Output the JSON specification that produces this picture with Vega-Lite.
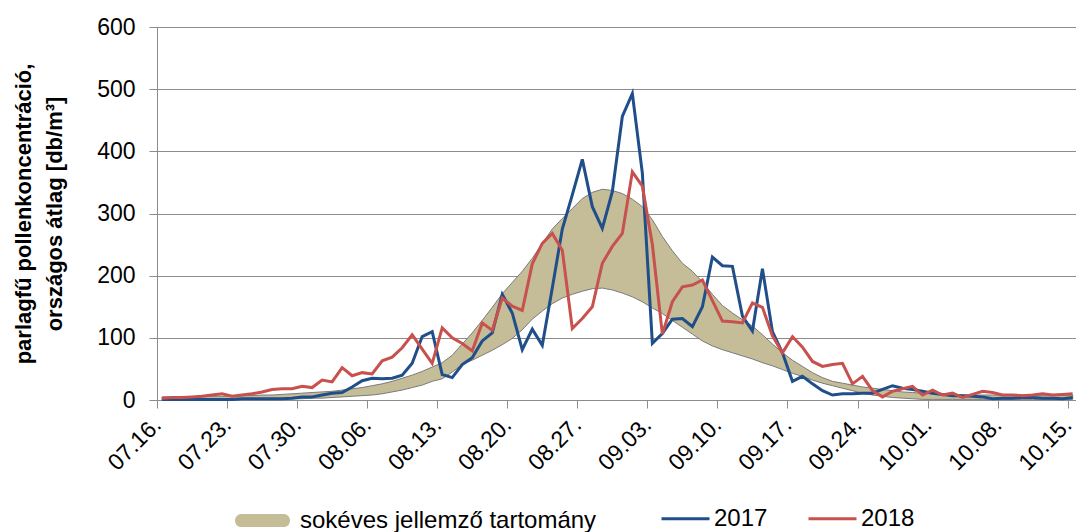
{
"$schema":"https://vega.github.io/schema/vega-lite/v6.json",
"width":919,"height":373,
"autosize":{"type":"none"},
"padding":{"left":157,"top":27,"right":0,"bottom":132},
"background":"white",
"config":{"font":"Liberation Sans","view":{"stroke":null},
 "axis":{"labelColor":"#000","titleColor":"#000","labelFont":"Liberation Sans","titleFont":"Liberation Sans","domainColor":"#8c8c8c","tickColor":"#8c8c8c","gridColor":"#8c8c8c","domainWidth":1,"tickWidth":1,"gridWidth":1},
 "legend":{"labelColor":"#000","labelFont":"Liberation Sans"}},
"data":{"values":[
{"date":"2018-07-16T12:00:00Z","lo":0,"up":5,"2017":1,"2018":3},
{"date":"2018-07-17T12:00:00Z","lo":0,"up":5,"2017":1,"2018":4},
{"date":"2018-07-18T12:00:00Z","lo":0,"up":5,"2017":1,"2018":4},
{"date":"2018-07-19T12:00:00Z","lo":0,"up":5,"2017":1,"2018":5},
{"date":"2018-07-20T12:00:00Z","lo":0,"up":6,"2017":1,"2018":6},
{"date":"2018-07-21T12:00:00Z","lo":0,"up":6,"2017":1,"2018":8},
{"date":"2018-07-22T12:00:00Z","lo":0,"up":6,"2017":1,"2018":10},
{"date":"2018-07-23T12:00:00Z","lo":0,"up":6,"2017":1,"2018":6},
{"date":"2018-07-24T12:00:00Z","lo":1,"up":7,"2017":2,"2018":8},
{"date":"2018-07-25T12:00:00Z","lo":1,"up":7,"2017":2,"2018":10},
{"date":"2018-07-26T12:00:00Z","lo":1,"up":8,"2017":2,"2018":13},
{"date":"2018-07-27T12:00:00Z","lo":1,"up":8,"2017":2,"2018":17},
{"date":"2018-07-28T12:00:00Z","lo":2,"up":9,"2017":2,"2018":18},
{"date":"2018-07-29T12:00:00Z","lo":2,"up":10,"2017":3,"2018":18},
{"date":"2018-07-30T12:00:00Z","lo":2,"up":11,"2017":5,"2018":22},
{"date":"2018-07-31T12:00:00Z","lo":3,"up":12,"2017":5,"2018":20},
{"date":"2018-08-01T12:00:00Z","lo":3,"up":13,"2017":8,"2018":32},
{"date":"2018-08-02T12:00:00Z","lo":4,"up":14,"2017":11,"2018":29},
{"date":"2018-08-03T12:00:00Z","lo":5,"up":16,"2017":12,"2018":52},
{"date":"2018-08-04T12:00:00Z","lo":6,"up":18,"2017":21,"2018":39},
{"date":"2018-08-05T12:00:00Z","lo":7,"up":20,"2017":31,"2018":44},
{"date":"2018-08-06T12:00:00Z","lo":8,"up":23,"2017":35,"2018":42},
{"date":"2018-08-07T12:00:00Z","lo":10,"up":26,"2017":34,"2018":63},
{"date":"2018-08-08T12:00:00Z","lo":13,"up":30,"2017":35,"2018":69},
{"date":"2018-08-09T12:00:00Z","lo":16,"up":35,"2017":40,"2018":84},
{"date":"2018-08-10T12:00:00Z","lo":20,"up":40,"2017":59,"2018":105},
{"date":"2018-08-11T12:00:00Z","lo":24,"up":46,"2017":102,"2018":82},
{"date":"2018-08-12T12:00:00Z","lo":30,"up":53,"2017":110,"2018":59},
{"date":"2018-08-13T12:00:00Z","lo":34,"up":60,"2017":41,"2018":116},
{"date":"2018-08-14T12:00:00Z","lo":45,"up":72,"2017":36,"2018":100},
{"date":"2018-08-15T12:00:00Z","lo":57,"up":90,"2017":57,"2018":91},
{"date":"2018-08-16T12:00:00Z","lo":64,"up":108,"2017":68,"2018":79},
{"date":"2018-08-17T12:00:00Z","lo":72,"up":128,"2017":95,"2018":124},
{"date":"2018-08-18T12:00:00Z","lo":80,"up":149,"2017":108,"2018":112},
{"date":"2018-08-19T12:00:00Z","lo":89,"up":171,"2017":170,"2018":164},
{"date":"2018-08-20T12:00:00Z","lo":99,"up":189,"2017":140,"2018":151},
{"date":"2018-08-21T12:00:00Z","lo":113,"up":207,"2017":81,"2018":144},
{"date":"2018-08-22T12:00:00Z","lo":130,"up":228,"2017":114,"2018":219},
{"date":"2018-08-23T12:00:00Z","lo":143,"up":252,"2017":88,"2018":252},
{"date":"2018-08-24T12:00:00Z","lo":155,"up":275,"2017":180,"2018":268},
{"date":"2018-08-25T12:00:00Z","lo":164,"up":292,"2017":275,"2018":241},
{"date":"2018-08-26T12:00:00Z","lo":170,"up":308,"2017":330,"2018":115},
{"date":"2018-08-27T12:00:00Z","lo":175,"up":324,"2017":387,"2018":131},
{"date":"2018-08-28T12:00:00Z","lo":179,"up":334,"2017":311,"2018":150},
{"date":"2018-08-29T12:00:00Z","lo":180,"up":339,"2017":276,"2018":220},
{"date":"2018-08-30T12:00:00Z","lo":177,"up":337,"2017":335,"2018":247},
{"date":"2018-08-31T12:00:00Z","lo":172,"up":332,"2017":456,"2018":268},
{"date":"2018-09-01T12:00:00Z","lo":166,"up":323,"2017":493,"2018":367},
{"date":"2018-09-02T12:00:00Z","lo":158,"up":311,"2017":365,"2018":344},
{"date":"2018-09-03T12:00:00Z","lo":148,"up":290,"2017":91,"2018":250},
{"date":"2018-09-04T12:00:00Z","lo":139,"up":263,"2017":107,"2018":106},
{"date":"2018-09-05T12:00:00Z","lo":128,"up":240,"2017":130,"2018":158},
{"date":"2018-09-06T12:00:00Z","lo":117,"up":220,"2017":131,"2018":182},
{"date":"2018-09-07T12:00:00Z","lo":106,"up":207,"2017":118,"2018":185},
{"date":"2018-09-08T12:00:00Z","lo":95,"up":190,"2017":150,"2018":193},
{"date":"2018-09-09T12:00:00Z","lo":87,"up":170,"2017":230,"2018":160},
{"date":"2018-09-10T12:00:00Z","lo":81,"up":152,"2017":216,"2018":127},
{"date":"2018-09-11T12:00:00Z","lo":76,"up":140,"2017":215,"2018":126},
{"date":"2018-09-12T12:00:00Z","lo":71,"up":129,"2017":135,"2018":124},
{"date":"2018-09-13T12:00:00Z","lo":66,"up":119,"2017":111,"2018":156},
{"date":"2018-09-14T12:00:00Z","lo":60,"up":105,"2017":211,"2018":149},
{"date":"2018-09-15T12:00:00Z","lo":55,"up":90,"2017":110,"2018":103},
{"date":"2018-09-16T12:00:00Z","lo":49,"up":76,"2017":76,"2018":76},
{"date":"2018-09-17T12:00:00Z","lo":43,"up":64,"2017":30,"2018":102},
{"date":"2018-09-18T12:00:00Z","lo":38,"up":54,"2017":38,"2018":85},
{"date":"2018-09-19T12:00:00Z","lo":32,"up":44,"2017":26,"2018":62},
{"date":"2018-09-20T12:00:00Z","lo":27,"up":36,"2017":15,"2018":54},
{"date":"2018-09-21T12:00:00Z","lo":23,"up":30,"2017":8,"2018":57},
{"date":"2018-09-22T12:00:00Z","lo":19,"up":27,"2017":10,"2018":59},
{"date":"2018-09-23T12:00:00Z","lo":15,"up":24,"2017":10,"2018":26},
{"date":"2018-09-24T12:00:00Z","lo":11,"up":21,"2017":11,"2018":38},
{"date":"2018-09-25T12:00:00Z","lo":8,"up":19,"2017":11,"2018":15},
{"date":"2018-09-26T12:00:00Z","lo":6,"up":17,"2017":17,"2018":5},
{"date":"2018-09-27T12:00:00Z","lo":4,"up":15,"2017":23,"2018":14},
{"date":"2018-09-28T12:00:00Z","lo":3,"up":13,"2017":19,"2018":18},
{"date":"2018-09-29T12:00:00Z","lo":2,"up":12,"2017":17,"2018":22},
{"date":"2018-09-30T12:00:00Z","lo":1,"up":11,"2017":14,"2018":8},
{"date":"2018-10-01T12:00:00Z","lo":1,"up":10,"2017":11,"2018":16},
{"date":"2018-10-02T12:00:00Z","lo":1,"up":9,"2017":9,"2018":8},
{"date":"2018-10-03T12:00:00Z","lo":1,"up":9,"2017":7,"2018":11},
{"date":"2018-10-04T12:00:00Z","lo":1,"up":8,"2017":7,"2018":4},
{"date":"2018-10-05T12:00:00Z","lo":1,"up":8,"2017":6,"2018":9},
{"date":"2018-10-06T12:00:00Z","lo":1,"up":8,"2017":5,"2018":14},
{"date":"2018-10-07T12:00:00Z","lo":1,"up":8,"2017":2,"2018":12},
{"date":"2018-10-08T12:00:00Z","lo":1,"up":8,"2017":3,"2018":8},
{"date":"2018-10-09T12:00:00Z","lo":1,"up":8,"2017":3,"2018":8},
{"date":"2018-10-10T12:00:00Z","lo":1,"up":8,"2017":4,"2018":7},
{"date":"2018-10-11T12:00:00Z","lo":1,"up":8,"2017":4,"2018":8},
{"date":"2018-10-12T12:00:00Z","lo":1,"up":8,"2017":3,"2018":10},
{"date":"2018-10-13T12:00:00Z","lo":1,"up":8,"2017":3,"2018":8},
{"date":"2018-10-14T12:00:00Z","lo":1,"up":8,"2017":2,"2018":9},
{"date":"2018-10-15T12:00:00Z","lo":1,"up":8,"2017":4,"2018":10}
]},
"encoding":{
 "x":{"field":"date","type":"temporal",
  "scale":{"type":"utc","domain":[{"year":2018,"month":7,"date":16,"utc":true},{"year":2018,"month":10,"date":15,"hours":20,"utc":true}]},
  "axis":{"title":null,"format":"%m.%d.","labelAngle":-45,"labelAlign":"right","labelBaseline":"middle","labelFontSize":23,"labelPadding":13,"tickSize":8,"grid":false,"labelOverlap":false,
   "values":[{"year":2018,"month":7,"date":16,"utc":true},{"year":2018,"month":7,"date":23,"utc":true},{"year":2018,"month":7,"date":30,"utc":true},{"year":2018,"month":8,"date":6,"utc":true},{"year":2018,"month":8,"date":13,"utc":true},{"year":2018,"month":8,"date":20,"utc":true},{"year":2018,"month":8,"date":27,"utc":true},{"year":2018,"month":9,"date":3,"utc":true},{"year":2018,"month":9,"date":10,"utc":true},{"year":2018,"month":9,"date":17,"utc":true},{"year":2018,"month":9,"date":24,"utc":true},{"year":2018,"month":10,"date":1,"utc":true},{"year":2018,"month":10,"date":8,"utc":true},{"year":2018,"month":10,"date":15,"utc":true}]}}
},
"layer":[
 {"mark":{"type":"area","stroke":"#7a7a7a","strokeWidth":1},
  "encoding":{
   "y":{"field":"lo","type":"quantitative","scale":{"domain":[0,600],"nice":false},
    "title":["parlagfű pollenkoncentráció,","országos átlag [db/m³]"],
    "axis":{"values":[0,100,200,300,400,500,600],"labelFontSize":23,"labelPadding":14,"tickSize":8,"grid":true,"titleFontSize":22,"titleFontWeight":"bold","titleLineHeight":31,"titlePadding":30}},
   "y2":{"field":"up"},
   "fill":{"datum":"sokéves jellemző tartomány","type":"nominal","scale":{"range":["#C4BD97"]},
    "legend":{"title":null,"orient":"none","legendX":78,"legendY":466,"symbolType":"M-0.78,-0.24L0.78,-0.24A0.22,0.24,0,0,1,0.78,0.24L-0.78,0.24A0.22,0.24,0,0,1,-0.78,-0.24Z","symbolSize":3025,"symbolStrokeWidth":0,"labelFontSize":24,"labelOffset":10,"labelLimit":400,"padding":0}}}},
 {"transform":[{"fold":["2017","2018"],"as":["key","value"]}],
  "mark":{"type":"line","strokeWidth":3},
  "encoding":{
   "y":{"field":"value","type":"quantitative","scale":{"domain":[0,600],"nice":false},
    "title":["parlagfű pollenkoncentráció,","országos átlag [db/m³]"],
    "axis":{"values":[0,100,200,300,400,500,600],"labelFontSize":23,"labelPadding":14,"tickSize":8,"grid":true,"titleFontSize":22,"titleFontWeight":"bold","titleLineHeight":31,"titlePadding":30}},
   "stroke":{"field":"key","type":"nominal","scale":{"domain":["2017","2018"],"range":["#1F4E8A","#C8504D"]},
    "legend":{"title":null,"orient":"none","legendX":503,"legendY":466,"direction":"horizontal","symbolType":"stroke","symbolSize":2304,"symbolStrokeWidth":3,"labelFontSize":24,"labelOffset":3,"columnPadding":34,"padding":0}}}}
]
}
